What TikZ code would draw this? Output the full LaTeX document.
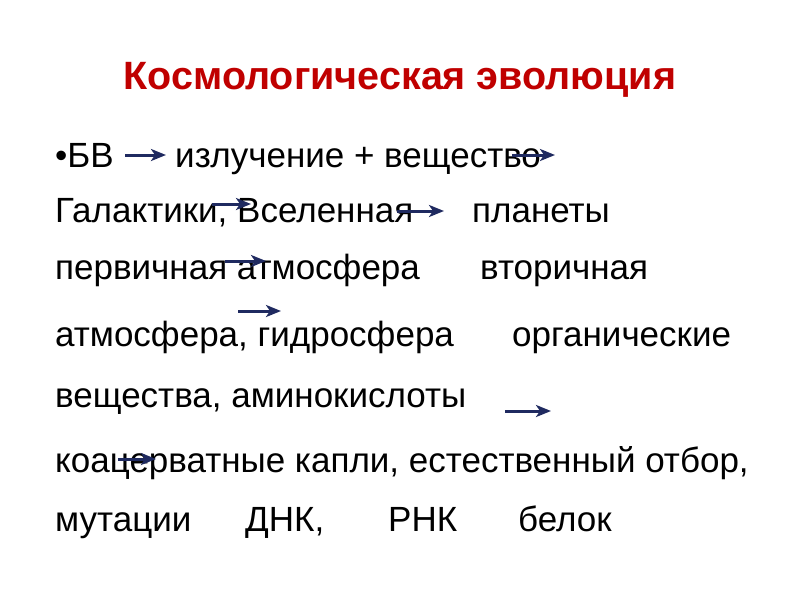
\documentclass[tikz,border=0pt]{standalone}
\usepackage{fontspec}
\setmainfont{Liberation Sans}
\usetikzlibrary{arrows.meta}
\definecolor{titlered}{HTML}{C00000}
\definecolor{arrownavy}{HTML}{1F2A60}
\begin{document}
\begin{tikzpicture}[x=1pt,y=-1pt,
  body/.style={anchor=base west,inner sep=0pt,font=\fontsize{35}{42}\selectfont,text=black},
  ttl/.style={anchor=base,inner sep=0pt,font=\fontsize{39.5}{46}\selectfont\bfseries,text=titlered},
  arr/.style={line width=3pt,draw=arrownavy,-{Stealth[length=15pt,width=12pt,inset=4pt]}}]
\useasboundingbox[fill=white] (0,0) rectangle (800,600);
\node[ttl] (title) at (400,89) {Космологическая эволюция};
% line 1
\node[body] (l1a) at (55,167) {•БВ};
\node[body] (l1b) at (175,167) {излучение + вещество};
% line 2
\node[body] (l2a) at (55,222) {Галактики, Вселенная};
\node[body] (l2b) at (472,222) {планеты};
% line 3
\node[body] (l3a) at (55,279) {первичная атмосфера};
\node[body] (l3b) at (480,279) {вторичная};
% line 4
\node[body] (l4a) at (55,346) {атмосфера, гидросфера};
\node[body] (l4b) at (512,346) {органические};
% line 5
\node[body] (l5a) at (55,407) {вещества, аминокислоты};
% line 6
\node[body] (l6a) at (55,472) {коацерватные капли, естественный отбор,};
% line 7
\node[body] (l7a) at (55,531) {мутации};
\node[body] (l7b) at (245,531) {ДНК,};
\node[body] (l7c) at (388,531) {РНК};
\node[body] (l7d) at (518,531) {белок};
% arrows
\coordinate (a1s) at (125,155); \coordinate (a1e) at (166,155);
\coordinate (a2s) at (512,155); \coordinate (a2e) at (555,155);
\coordinate (a3s) at (212,204); \coordinate (a3e) at (251,204);
\coordinate (a4s) at (397,211); \coordinate (a4e) at (444,211);
\coordinate (a5s) at (225,261); \coordinate (a5e) at (266,261);
\coordinate (a6s) at (238,311); \coordinate (a6e) at (281,311);
\coordinate (a7s) at (505,411); \coordinate (a7e) at (551,411);
\coordinate (a8s) at (118,459); \coordinate (a8e) at (156,459);
\foreach \i in {1,...,8} \draw[arr] (a\i s) -- (a\i e);
\end{tikzpicture}
\end{document}
